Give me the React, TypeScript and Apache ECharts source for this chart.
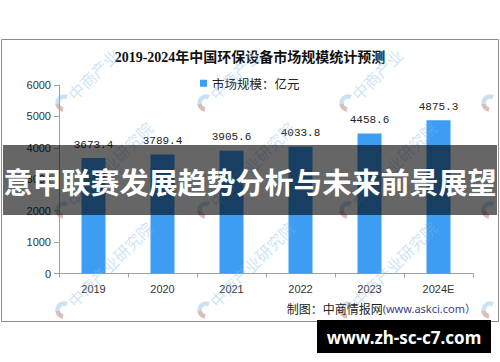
import React, { useEffect, useRef } from "react";
import * as echarts from "echarts";

const categories = ["2019", "2020", "2021", "2022", "2023", "2024E"];
const values = [3673.4, 3789.4, 3905.6, 4033.8, 4458.6, 4875.3];
const seriesName = "市场规模：亿元";
const titleText = "2019-2024年中国环保设备市场规模统计预测";
const bannerText = "意甲联赛发展趋势分析与未来前景展望";
const siteText = "www.zh-sc-c7.com";
const sourceLabel = "制图：中商情报网";
const sourceUrl = "(www.askci.com）";
const watermarkText = "中商产业研究院";
const wmCols = [-78, 64, 206, 348, 490];
const wmRows = [103, 210, 310];

export default function App() {
  const ref = useRef<HTMLDivElement>(null);
  useEffect(() => {
    if (!ref.current) return;
    const chart = echarts.init(ref.current, null, { renderer: "svg" });

    const inFrame = (x: number, y: number, pad: number) =>
      x > 2 + pad && x < 498 - pad && y > 40 + pad && y < 321 - pad;

    const watermarks: any[] = [];
    wmRows.forEach((y) => {
      wmCols.forEach((x) => {
        if (inFrame(x, y, 0)) {
          watermarks.push({
            type: "arc",
            z: 10,
            silent: true,
            shape: { cx: x, cy: y, r: 6.5, startAngle: -Math.PI * 0.35, endAngle: Math.PI * 0.55, clockwise: false },
            style: { stroke: "rgba(120,180,230,0.4)", lineWidth: 4.5, fill: null },
          });
          watermarks.push({
            type: "arc",
            z: 10,
            silent: true,
            shape: { cx: x, cy: y, r: 6.5, startAngle: Math.PI * 0.55, endAngle: Math.PI * 0.95, clockwise: true },
            style: { stroke: "rgba(240,140,100,0.4)", lineWidth: 4.5, fill: null },
          });
        }
        const chars = Array.from(watermarkText);
        chars.forEach((ch, i) => {
          const d = 17 + i * 16;
          const cx = x + d / Math.SQRT2;
          const cy = y - d / Math.SQRT2;
          if (!inFrame(cx, cy, 7)) return;
          watermarks.push({
            type: "text",
            z: 10,
            silent: true,
            x: cx,
            y: cy,
            rotation: Math.PI / 4,
            style: {
              text: ch,
              fontSize: 16,
              fontWeight: "normal",
              fontFamily: "Noto Sans CJK SC",
              fill: "rgba(130,185,235,0.4)",
              textAlign: "center",
              textVerticalAlign: "middle",
            },
          });
        });
      });
    });

    chart.setOption({
      animation: false,
      backgroundColor: "#ffffff",
      title: {
        text: titleText,
        left: "center",
        top: 50,
        padding: 0,
        textStyle: {
          fontSize: 14,
          fontWeight: "bold",
          fontFamily: "Liberation Serif, Noto Sans CJK SC",
          color: "#111111",
        },
      },
      legend: {
        data: [seriesName],
        left: 200,
        top: 77,
        padding: 0,
        icon: "rect",
        itemWidth: 7,
        itemHeight: 7,
        textStyle: {
          fontSize: 12.5,
          fontFamily: "Noto Sans CJK SC",
          color: "#222222",
          padding: [0, 0, 0, 0],
        },
      },
      grid: { left: 59, right: 27, top: 85, bottom: 88.5, containLabel: false },
      xAxis: {
        type: "category",
        data: categories,
        boundaryGap: true,
        axisLine: { show: true, lineStyle: { color: "#a0a0a0", width: 1 } },
        axisTick: { show: true, alignWithLabel: false, length: 4, lineStyle: { color: "#a0a0a0" } },
        axisLabel: {
          margin: 10,
          fontSize: 11,
          fontFamily: "Liberation Sans",
          color: "#333333",
        },
        splitLine: { show: false },
      },
      yAxis: {
        type: "value",
        min: 0,
        max: 6000,
        interval: 1000,
        axisLine: { show: true, lineStyle: { color: "#a0a0a0", width: 1 } },
        axisTick: { show: true, inside: false, length: 5, lineStyle: { color: "#a0a0a0" } },
        axisLabel: {
          margin: 8,
          fontSize: 11,
          fontFamily: "Liberation Sans",
          color: "#333333",
          formatter: (v: number) => String(v),
        },
        splitLine: { show: false },
      },
      series: [
        {
          name: seriesName,
          type: "bar",
          data: values,
          barWidth: 24,
          itemStyle: { color: "#3d9df2" },
          label: {
            show: true,
            position: "top",
            distance: 8,
            fontSize: 11,
            fontFamily: "Liberation Mono",
            color: "#222222",
            formatter: (p: any) => Number(p.value).toFixed(1),
          },
        },
      ],
      graphic: [
        {
          type: "rect",
          z: 5,
          silent: true,
          shape: { x: 1.5, y: 39.5, width: 497, height: 282 },
          style: { fill: null, stroke: "#8c8c8c", lineWidth: 1 },
        },
        ...watermarks,
        {
          type: "text",
          z: 12,
          x: 476,
          y: 308,
          style: {
            text: "{a|" + sourceLabel + "}{b|" + sourceUrl + "}",
            textAlign: "right",
            textVerticalAlign: "middle",
            rich: {
              a: { fontSize: 12, fontFamily: "Noto Sans CJK SC", fill: "#222222", color: "#222222" },
              b: { fontSize: 11, fontFamily: "Noto Sans, Noto Sans CJK SC", fill: "#3c3c8c", color: "#3c3c8c" },
            },
          },
        },
        {
          type: "rect",
          z: 20,
          silent: true,
          shape: { x: 3, y: 145, width: 494, height: 70 },
          style: { fill: "rgba(0,0,0,0.6)" },
        },
        {
          type: "text",
          z: 21,
          x: 250,
          y: 181,
          style: {
            text: bannerText,
            fontSize: 29,
            fontWeight: "bold",
            fontFamily: "Noto Sans CJK SC",
            fill: "#ffffff",
            textAlign: "center",
            textVerticalAlign: "middle",
          },
        },
        {
          type: "rect",
          z: 20,
          silent: true,
          shape: { x: 317, y: 320, width: 174, height: 33 },
          style: { fill: "#000000" },
        },
        {
          type: "text",
          z: 21,
          x: 404,
          y: 337,
          style: {
            text: siteText,
            fontSize: 17,
            fontWeight: "bold",
            fontFamily: "Noto Sans",
            fill: "#ffffff",
            textAlign: "center",
            textVerticalAlign: "middle",
          },
        },
      ],
    });
    return () => chart.dispose();
  }, []);

  return (
    <div
      ref={ref}
      style={{ position: "absolute", left: 0, top: 0, width: 500, height: 362 }}
    />
  );
}
